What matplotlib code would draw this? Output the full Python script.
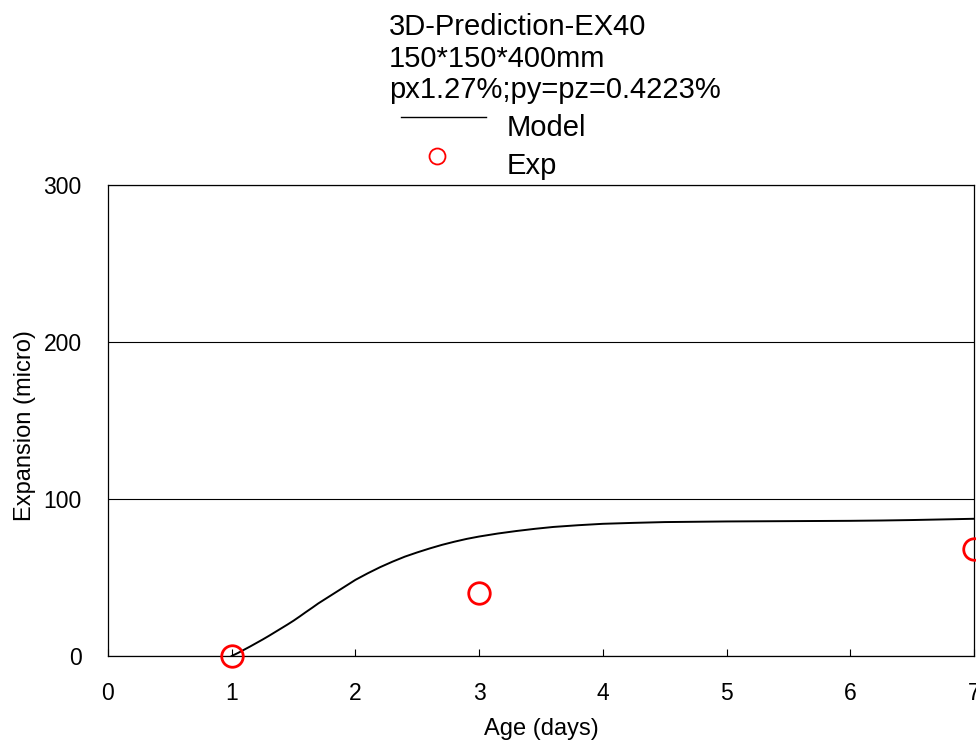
import matplotlib
matplotlib.use("Agg")
import matplotlib.pyplot as plt
from matplotlib.lines import Line2D

plt.rcParams["font.family"] = ["Liberation Sans", "DejaVu Sans"]

# Model prediction (age in days, expansion in micro-strain)
model_age = [1.0, 1.05, 1.1, 1.15, 1.2, 1.25, 1.3, 1.35, 1.4, 1.45, 1.5, 1.55,
             1.6, 1.65, 1.7, 1.75, 1.8, 1.85, 1.9, 1.95, 2.0, 2.1, 2.2, 2.3,
             2.4, 2.5, 2.6, 2.7, 2.8, 2.9, 3.0, 3.15, 3.3, 3.45, 3.6, 3.8, 4.0,
             4.25, 4.5, 4.75, 5.0, 5.25, 5.5, 5.75, 6.0, 6.25, 6.5, 6.75, 7.0]
model_expansion = [0.0, 1.9, 4.0, 6.1, 8.3, 10.5, 12.8, 15.2, 17.6, 20.0, 22.5,
                   25.2, 28.0, 30.7, 33.5, 36.0, 38.5, 41.0, 43.5, 46.0, 48.5,
                   52.7, 56.6, 60.1, 63.3, 66.0, 68.5, 70.8, 72.8, 74.6, 76.1,
                   78.0, 79.6, 81.0, 82.2, 83.3, 84.2, 84.8, 85.3, 85.5, 85.7,
                   85.8, 85.9, 86.0, 86.1, 86.3, 86.6, 87.0, 87.4]

# Measured expansion
exp_age = [1, 3, 7]
exp_expansion = [0, 40, 68]

x_ticks = [0, 1, 2, 3, 4, 5, 6, 7]
y_ticks = [0, 100, 200, 300]

title_lines = ["3D-Prediction-EX40", "150*150*400mm", "px1.27%;py=pz=0.4223%"]
legend_labels = ["Model", "Exp"]

W, H = 976, 751
fig = plt.figure(figsize=(W / 100, H / 100), dpi=100)
ax = fig.add_axes([108 / W, 1 - 656 / H, 866 / W, 471 / H])

ax.plot(model_age, model_expansion, color="black", lw=1.4, zorder=3)
ax.plot(exp_age, exp_expansion, linestyle="none", marker="o", mfc="none",
        mec="red", ms=15.5, mew=2.0, clip_on=False, zorder=5)

ax.set_xlim(0, 7)
ax.set_ylim(0, 300)
ax.set_xticks(x_ticks)
ax.set_yticks(y_ticks)
ax.tick_params(axis="x", direction="in", length=5, width=0.8, pad=19,
               labelsize=16.5, colors="black")
ax.tick_params(axis="y", direction="in", length=0, pad=19, labelsize=16.5)
ax.yaxis.grid(True, color="black", lw=0.8)
ax.set_axisbelow(True)
for sp in ax.spines.values():
    sp.set_linewidth(0.9)

ax.set_xlabel("Age (days)", fontsize=17)
ax.xaxis.set_label_coords(0.5, (656 - 718) / 471)
ax.set_ylabel("Expansion (micro)", fontsize=17)
ax.yaxis.set_label_coords((36 - 108) / 866, 0.49)

fig.text(389 / W, 1 - 13 / H, "\n".join(title_lines), ha="left", va="top",
         fontsize=21, linespacing=1.17)

# Key block under the title: line key, circle key and their labels
fx = lambda px: px / W
fy = lambda py: 1 - py / H
fig.add_artist(Line2D([fx(401), fx(486)], [fy(116.7), fy(116.7)],
                      color="black", lw=1.0, transform=fig.transFigure))
fig.add_artist(Line2D([fx(436.7)], [fy(156)], linestyle="none", marker="o",
                      mfc="none", mec="red", ms=11.5, mew=1.3,
                      transform=fig.transFigure))
for label, base in zip(legend_labels, [135.7, 174.0]):
    fig.text(fx(506.7), fy(base), label, ha="left", va="baseline", fontsize=21)

fig.savefig("out.png", dpi=100)
